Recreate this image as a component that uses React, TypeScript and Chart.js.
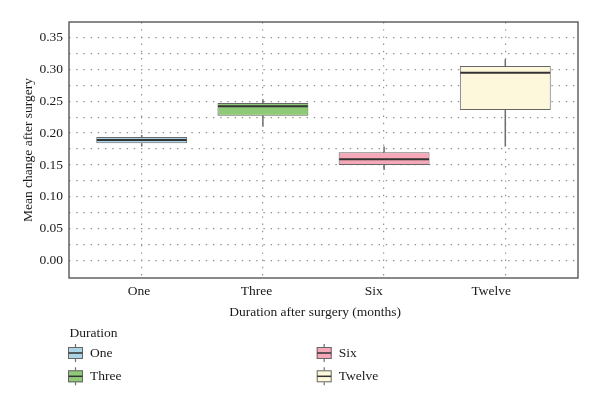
import React, { useEffect, useRef } from 'react';
import { Chart, registerables } from 'chart.js';

Chart.register(...registerables);

// ---- data ----
const categories = ['One', 'Three', 'Six', 'Twelve'];
const whiskerLow = [0.179, 0.21, 0.142, 0.179];
const q1 = [0.184, 0.227, 0.15, 0.236];
const median = [0.189, 0.242, 0.159, 0.2945];
const q3 = [0.194, 0.247, 0.17, 0.305];
const whiskerHigh = [0.197, 0.253, 0.179, 0.3155];
const fills = ['#a8d4e6', '#8fca76', '#f5a8b8', '#fdf8db'];

const yMajorTicks = [0, 0.05, 0.1, 0.15, 0.2, 0.25, 0.3, 0.35];
const yMinorTicks = [0.025, 0.075, 0.125, 0.175, 0.225, 0.275, 0.325];
const xTitle = 'Duration after surgery (months)';
const yTitle = 'Mean change after surgery';
const legendTitle = 'Duration';

const FONT = '"Liberation Serif", "DejaVu Serif", serif';
const TEXT = '#1a1a1a';

// horizontal placement of the figure's text layer (slightly narrower than the panel)
const textX = (px: number) => 1.8 + 0.9686 * px;

const boxPlugin = {
  id: 'boxExtras',
  afterDatasetsDraw(chart: any) {
    const { ctx, scales } = chart;
    const y = scales.y;
    const meta = chart.getDatasetMeta(0);
    ctx.save();
    categories.forEach((_, i) => {
      const el: any = meta.data[i];
      if (!el) return;
      const cx = el.x;
      const half = el.width / 2;
      ctx.strokeStyle = '#6e6e6e';
      ctx.lineWidth = 1.5;
      ctx.beginPath();
      ctx.moveTo(cx, y.getPixelForValue(q3[i]));
      ctx.lineTo(cx, y.getPixelForValue(whiskerHigh[i]));
      ctx.moveTo(cx, y.getPixelForValue(q1[i]));
      ctx.lineTo(cx, y.getPixelForValue(whiskerLow[i]));
      ctx.stroke();
      const ym = y.getPixelForValue(median[i]);
      ctx.strokeStyle = '#333333';
      ctx.lineWidth = 2;
      ctx.beginPath();
      ctx.moveTo(cx - half + 0.5, ym);
      ctx.lineTo(cx + half - 0.5, ym);
      ctx.stroke();
    });
    const a = chart.chartArea;
    ctx.strokeStyle = '#4a4a4a';
    ctx.lineWidth = 1.3;
    ctx.strokeRect(a.left, a.top, a.right - a.left, a.bottom - a.top);
    ctx.restore();
  },
  afterDraw(chart: any) {
    const { ctx, scales } = chart;
    const x = scales.x;
    const a = chart.chartArea;
    ctx.save();
    ctx.fillStyle = TEXT;
    ctx.font = `13.5px ${FONT}`;
    ctx.textBaseline = 'middle';
    ctx.textAlign = 'center';
    // x tick labels
    categories.forEach((c, i) => {
      ctx.fillText(c, textX(x.getPixelForValue(i + 1)), a.bottom + 13);
    });
    // x title
    ctx.fillText(xTitle, textX((a.left + a.right) / 2), a.bottom + 34);
    // y title
    ctx.save();
    ctx.translate(28.5, (a.top + a.bottom) / 2);
    ctx.rotate(-Math.PI / 2);
    ctx.fillText(yTitle, 0, 0);
    ctx.restore();
    // legend
    ctx.textAlign = 'left';
    const legTop = a.bottom + 55.5;
    ctx.fillText(legendTitle, a.left + 0.5, legTop);
    categories.forEach((c, i) => {
      const col = Math.floor(i / 2);
      const row = i % 2;
      const ix = a.left - 1 + col * 248.7;
      const iy = legTop + 19.5 + row * 23.3;
      ctx.strokeStyle = '#6e6e6e';
      ctx.lineWidth = 1.2;
      ctx.beginPath();
      ctx.moveTo(ix + 7.5, iy - 9);
      ctx.lineTo(ix + 7.5, iy + 9);
      ctx.stroke();
      ctx.fillStyle = fills[i];
      ctx.fillRect(ix, iy - 6, 15, 12);
      ctx.strokeStyle = '#666666';
      ctx.lineWidth = 1;
      ctx.strokeRect(ix + 0.5, iy - 5.5, 14, 11);
      ctx.strokeStyle = '#333333';
      ctx.lineWidth = 1.5;
      ctx.beginPath();
      ctx.moveTo(ix + 0.5, iy);
      ctx.lineTo(ix + 14.5, iy);
      ctx.stroke();
      ctx.fillStyle = TEXT;
      ctx.fillText(c, ix + 22, iy);
    });
    ctx.restore();
  },
};

export default function App() {
  const ref = useRef<HTMLCanvasElement | null>(null);
  useEffect(() => {
    if (!ref.current) return;
    const chart = new Chart(ref.current, {
      type: 'bar',
      data: {
        datasets: [
          {
            data: categories.map((_, i) => ({ x: i + 1, y: [q1[i], q3[i]] })) as any,
            backgroundColor: fills,
            borderColor: '#666666',
            borderWidth: 1,
            borderSkipped: false,
            barPercentage: 0.75,
            categoryPercentage: 1,
          },
        ],
      },
      options: {
        animation: false,
        responsive: true,
        maintainAspectRatio: false,
        layout: { padding: { left: 0, right: 22, top: 22, bottom: 0 } },
        plugins: { legend: { display: false }, tooltip: { enabled: false } },
        scales: {
          x: {
            type: 'linear',
            min: 0.4,
            max: 4.6,
            offset: false,
            afterBuildTicks: (s: any) => {
              s.ticks = categories.map((_, i) => ({ value: i + 1 }));
            },
            afterFit: (s: any) => {
              s.height = 129;
            },
            ticks: { display: false, autoSkip: false },
            grid: { color: '#939393', lineWidth: 1.2, drawTicks: false, offset: false },
            border: { display: false, dash: [1.4, 5.8] },
          },
          y: {
            min: -0.027,
            max: 0.374,
            afterBuildTicks: (s: any) => {
              s.ticks = [...yMajorTicks, ...yMinorTicks]
                .sort((p, q) => p - q)
                .map((v) => ({ value: v }));
            },
            afterFit: (s: any) => {
              s.width = 69;
            },
            ticks: {
              padding: 6,
              autoSkip: false,
              color: TEXT,
              font: { family: FONT, size: 13.5 },
              callback: (v: any) =>
                yMajorTicks.some((m) => Math.abs(m - Number(v)) < 1e-6)
                  ? Number(v).toFixed(2)
                  : '',
            },
            grid: { color: '#939393', lineWidth: 1.2, drawTicks: false },
            border: { display: false, dash: [1.4, 5.8] },
          },
        },
      },
      plugins: [boxPlugin],
    });
    return () => chart.destroy();
  }, []);
  return (
    <div style={{ position: 'fixed', left: 0, top: 0, width: 600, height: 407, background: '#fff' }}>
      <canvas ref={ref} />
    </div>
  );
}
